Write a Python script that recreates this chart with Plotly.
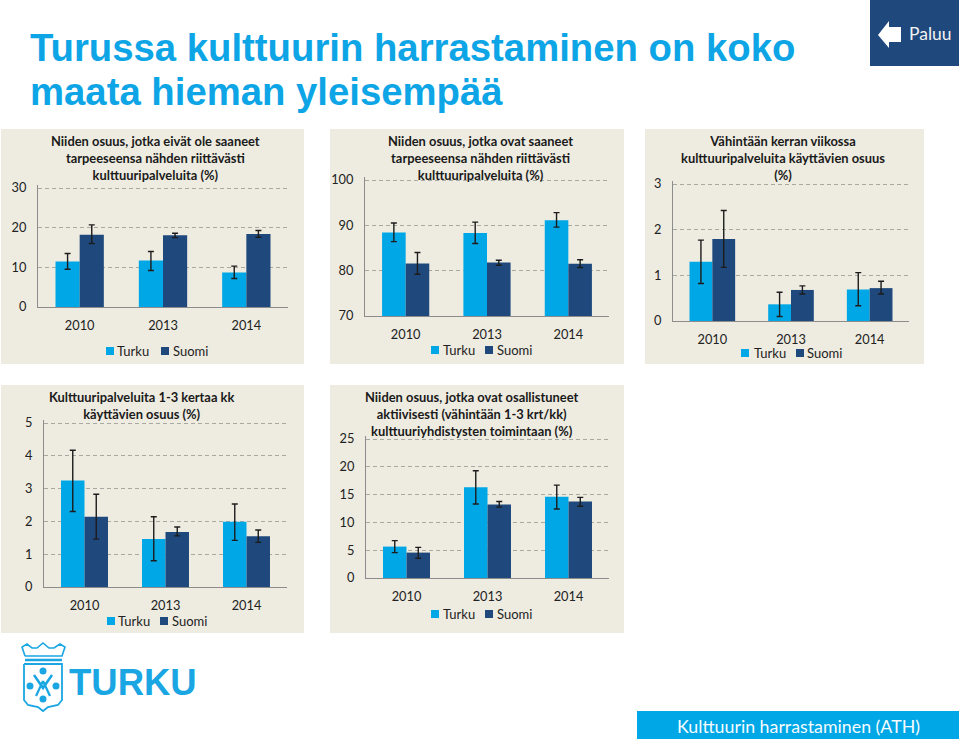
import plotly.graph_objects as go

W, H = 959, 739
YEARS = ["2010", "2013", "2014"]
SERIES = ["Turku", "Suomi"]
COL_T, COL_S = "#00a7e6", "#1f497d"
BG = "#eeece1"
BODY = "Lato"

# Chart 1
t1_title = "Niiden osuus, jotka eivät ole saaneet<br>tarpeeseensa nähden riittävästi<br>kulttuuripalveluita (%)"
t1_turku = [11.5, 11.7, 8.7]
t1_turku_lo = [9.5, 9.2, 7.2]
t1_turku_hi = [13.5, 14.0, 10.3]
t1_suomi = [18.2, 18.1, 18.4]
t1_suomi_lo = [16.0, 17.5, 17.6]
t1_suomi_hi = [20.7, 18.6, 19.3]
# Chart 2
t2_title = "Niiden osuus, jotka ovat saaneet<br>tarpeeseensa nähden riittävästi<br>kulttuuripalveluita (%)"
t2_turku = [88.4, 88.3, 91.1]
t2_turku_lo = [86.4, 86.0, 89.6]
t2_turku_hi = [90.5, 90.7, 92.8]
t2_suomi = [81.6, 81.8, 81.5]
t2_suomi_lo = [79.2, 81.2, 80.7]
t2_suomi_hi = [84.0, 82.3, 82.4]
# Chart 3
t3_title = "Vähintään kerran viikossa<br>kulttuuripalveluita käyttävien osuus<br>(%)"
t3_turku = [1.3, 0.365, 0.69]
t3_turku_lo = [0.82, 0.1, 0.335]
t3_turku_hi = [1.77, 0.63, 1.06]
t3_suomi = [1.795, 0.68, 0.72]
t3_suomi_lo = [1.175, 0.59, 0.59]
t3_suomi_hi = [2.42, 0.77, 0.87]
# Chart 4
t4_title = "Kulttuuripalveluita 1-3 kertaa kk<br>käyttävien osuus (%)"
t4_turku = [3.25, 1.46, 1.99]
t4_turku_lo = [2.3, 0.8, 1.42]
t4_turku_hi = [4.17, 2.14, 2.53]
t4_suomi = [2.14, 1.68, 1.55]
t4_suomi_lo = [1.46, 1.56, 1.36]
t4_suomi_hi = [2.83, 1.83, 1.74]
# Chart 5
t5_title = "Niiden osuus, jotka ovat osallistuneet<br>aktiivisesti (vähintään 1-3 krt/kk)<br>kulttuuriyhdistysten toimintaan (%)"
t5_turku = [5.65, 16.3, 14.6]
t5_turku_lo = [4.57, 13.3, 12.4]
t5_turku_hi = [6.73, 19.3, 16.7]
t5_suomi = [4.57, 13.2, 13.76]
t5_suomi_lo = [3.55, 12.75, 12.9]
t5_suomi_hi = [5.5, 13.76, 14.5]

# layout in pixels: panel box, plot box, y range, title centre/top, legend swatch x / label x / centre y
panels = [
    dict(bg=(1, 129, 304, 364), plot=(38, 188, 288, 307), yr=(0, 30), dt=10, tc=155, tt=131,
         leg=(106, 116, 161, 172, 351), title=t1_title,
         d=(t1_turku, t1_turku_lo, t1_turku_hi, t1_suomi, t1_suomi_lo, t1_suomi_hi)),
    dict(bg=(330, 129, 624, 364), plot=(365, 180, 609, 316), yr=(70, 100), dt=10, tc=480, tt=131,
         leg=(431, 442, 485, 496, 350), title=t2_title,
         d=(t2_turku, t2_turku_lo, t2_turku_hi, t2_suomi, t2_suomi_lo, t2_suomi_hi)),
    dict(bg=(645, 129, 924, 364), plot=(673, 184, 909, 321), yr=(0, 3), dt=1, tc=783, tt=131,
         leg=(741, 753, 796, 806, 353), title=t3_title,
         d=(t3_turku, t3_turku_lo, t3_turku_hi, t3_suomi, t3_suomi_lo, t3_suomi_hi)),
    dict(bg=(1, 385, 304, 633), plot=(44, 423, 287, 587), yr=(0, 5), dt=1, tc=141, tt=387,
         leg=(107, 117, 160, 171, 621), title=t4_title,
         d=(t4_turku, t4_turku_lo, t4_turku_hi, t4_suomi, t4_suomi_lo, t4_suomi_hi)),
    dict(bg=(330, 385, 624, 633), plot=(366, 439, 609, 578), yr=(0, 25), dt=5, tc=472, tt=387,
         leg=(431, 442, 485, 496, 614), title=t5_title,
         d=(t5_turku, t5_turku_lo, t5_turku_hi, t5_suomi, t5_suomi_lo, t5_suomi_hi)),
]

def px(x): return x / W
def py(y): return 1 - y / H

fig = go.Figure()
shapes, annos = [], []
layout = {}
TICK = dict(family=BODY, size=12.8, color="#222222")
EXTRA = 3  # px of headroom so the top gridline is kept

for i, p in enumerate(panels, 1):
    s = "" if i == 1 else str(i)
    x0, y0, x1, y1 = p["plot"]
    b = p["bg"]
    shapes.append(dict(type="rect", xref="paper", yref="paper", layer="below", line_width=0,
                       fillcolor=BG, x0=px(b[0]), x1=px(b[2]), y0=py(b[3]), y1=py(b[1])))
    lo, hi = p["yr"]
    tv = []
    v = lo
    while v <= hi:
        tv.append(v)
        v += p["dt"]
    top = hi + (hi - lo) * EXTRA / (y1 - y0)
    layout["xaxis" + s] = dict(domain=[px(x0), px(x1)], anchor="y" + s, type="category", showgrid=False,
                               showline=True, linecolor="#8c8c8c", linewidth=1, ticks="", zeroline=False,
                               ticklabelstandoff=7, tickfont=TICK,
                               categoryorder="array", categoryarray=YEARS)
    layout["yaxis" + s] = dict(domain=[py(y1), py(y0 - EXTRA)], anchor="x" + s, range=[lo, top], tickvals=tv,
                               showgrid=True, gridcolor="#a9a9a3", griddash="4px,3px", gridwidth=1,
                               showline=True, linecolor="#8c8c8c", linewidth=1, ticks="", zeroline=False,
                               ticklabelstandoff=8, tickfont=TICK)
    d = p["d"]
    for name, col, val, l, h in ((SERIES[0], COL_T, d[0], d[1], d[2]), (SERIES[1], COL_S, d[3], d[4], d[5])):
        fig.add_trace(go.Bar(
            x=YEARS, y=val, name=name, marker=dict(color=col, line_width=0), showlegend=False,
            xaxis="x" + s, yaxis="y" + s, offsetgroup=name,
            error_y=dict(type="data", symmetric=False,
                         array=[a - c for a, c in zip(h, val)],
                         arrayminus=[c - a for a, c in zip(l, val)],
                         color="#1c1c1c", thickness=1.4, width=3),
        ))
    annos.append(dict(text="<b>%s</b>" % p["title"], xref="paper", yref="paper", x=px(p["tc"]), y=py(p["tt"]),
                      xanchor="center", yanchor="top", showarrow=False, align="center",
                      font=dict(family=BODY, size=12.9, color="#1a1a1a")))
    sx1, lx1, sx2, lx2, ly = p["leg"]
    for sx, lx, name, col in ((sx1, lx1, SERIES[0], COL_T), (sx2, lx2, SERIES[1], COL_S)):
        shapes.append(dict(type="rect", xref="paper", yref="paper", line_width=0, fillcolor=col,
                           x0=px(sx), x1=px(sx + 8), y0=py(ly + 4), y1=py(ly - 4)))
        annos.append(dict(text=name, xref="paper", yref="paper", x=px(lx - 1), y=py(ly), xanchor="left",
                          yanchor="middle", showarrow=False, font=dict(family=BODY, size=13, color="#222222")))

# heading
HEAD = "#0ea5e6"
annos.append(dict(text="<b>Turussa kulttuurin harrastaminen on koko</b>", xref="paper", yref="paper", x=px(28), y=py(47),
                  xanchor="left", yanchor="middle", showarrow=False,
                  font=dict(family="Liberation Sans", size=38.3, color=HEAD)))
annos.append(dict(text="<b>maata hieman yleisempää</b>", xref="paper", yref="paper", x=px(28), y=py(91),
                  xanchor="left", yanchor="middle", showarrow=False,
                  font=dict(family="Liberation Sans", size=38.3, color=HEAD)))

# Paluu button
shapes.append(dict(type="rect", xref="paper", yref="paper", line_width=0, fillcolor="#1f497d",
                   x0=px(870), x1=px(959), y0=py(66), y1=py(0)))
def path(pts):
    return "M" + " L".join("%.5f,%.5f" % (px(a), py(b)) for a, b in pts) + " Z"
shapes.append(dict(type="path", xref="paper", yref="paper", line_width=0, fillcolor="#ffffff",
                   path=path([(878, 35), (889, 21), (889, 27), (901, 27), (901, 42), (889, 42), (889, 48)])))
annos.append(dict(text="Paluu", xref="paper", yref="paper", x=px(907), y=py(34), xanchor="left", yanchor="middle",
                  showarrow=False, font=dict(family=BODY, size=17.5, color="#f2f2f2")))

# footer
shapes.append(dict(type="rect", xref="paper", yref="paper", line_width=0, fillcolor="#00a7e6",
                   x0=px(637), x1=px(959), y0=py(739), y1=py(711)))
annos.append(dict(text="Kulttuurin harrastaminen (ATH)", xref="paper", yref="paper", x=px(798), y=py(726),
                  xanchor="center", yanchor="middle", showarrow=False,
                  font=dict(family=BODY, size=17.8, color="#f5fbff")))

# logo
LOGO = "#1aa6e3"
annos.append(dict(text="<b>TURKU</b>", xref="paper", yref="paper", x=px(67), y=py(682), xanchor="left",
                  yanchor="middle", showarrow=False, font=dict(family="Liberation Sans", size=36.5, color=LOGO)))
def oline(pts, w=1.6):
    return dict(type="path", xref="paper", yref="paper", line=dict(color=LOGO, width=w),
                path="M" + " L".join("%.5f,%.5f" % (px(a), py(b)) for a, b in pts))
# shield
shapes.append(oline([(24, 664), (62, 664), (62, 700), (58, 705), (48, 707), (43, 711), (38, 707), (28, 705), (24, 700), (24, 664)], 1.8))
# crown
shapes.append(oline([(25, 660), (62, 660)], 2.5))
shapes.append(oline([(25, 656), (22, 647), (27, 644), (32, 648), (37, 648), (43, 643), (49, 648), (54, 648), (60, 644), (65, 647), (62, 656), (25, 656)], 1.6))
# arms
shapes.append(oline([(34, 675), (43, 688), (52, 675)], 2.5))
shapes.append(oline([(43, 681), (36, 696)], 2.2))
shapes.append(oline([(43, 681), (50, 696)], 2.2))
for cx, cy in ((43, 671), (30, 686), (56, 686), (43, 699)):
    shapes.append(dict(type="circle", xref="paper", yref="paper", line_width=0, fillcolor=LOGO,
                       x0=px(cx - 3.5), x1=px(cx + 3.5), y0=py(cy + 3.5), y1=py(cy - 3.5)))

fig.update_layout(width=W, height=H, margin=dict(l=0, r=0, t=0, b=0, pad=0, autoexpand=False), autosize=False,
                  showlegend=False, paper_bgcolor="#ffffff", plot_bgcolor="rgba(0,0,0,0)", barmode="group",
                  bargap=0.42, bargroupgap=0, shapes=shapes, annotations=annos, **layout)
fig.write_html("out.html", config=dict(displayModeBar=False),
               post_script="document.body.style.margin='0';document.documentElement.style.overflow='hidden';")
